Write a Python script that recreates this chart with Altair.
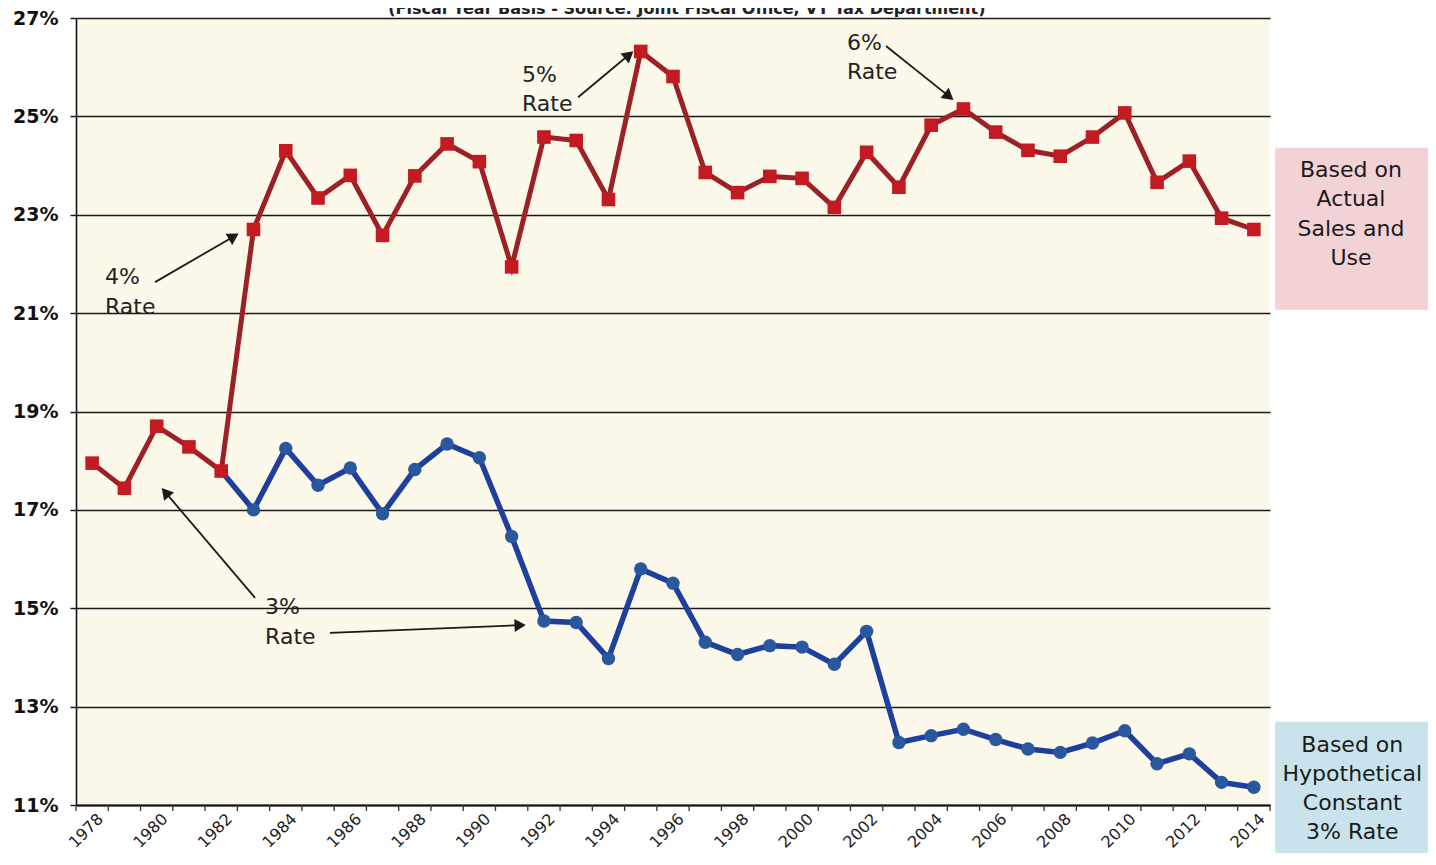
import math
import altair as alt
import pandas as pd

# ---------------- data ----------------
years = list(range(1978, 2015))
actual_pct = [17.95, 17.44, 18.70, 18.28, 17.79, 22.70, 24.30, 23.34, 23.80, 22.58,
              23.79, 24.44, 24.08, 21.94, 24.58, 24.51, 23.31, 26.32, 25.81, 23.86,
              23.45, 23.78, 23.74, 23.15, 24.27, 23.56, 24.82, 25.15, 24.68, 24.31,
              24.19, 24.58, 25.07, 23.66, 24.09, 22.93, 22.70]

hyp_years = list(range(1982, 2015))
hyp_pct = [17.79, 17.00, 18.25, 17.50, 17.85, 16.92, 17.82, 18.34, 18.06, 16.46,
           14.74, 14.71, 13.98, 15.80, 15.51, 14.31, 14.06, 14.24, 14.21, 13.86,
           14.53, 12.27, 12.41, 12.54, 12.33, 12.14, 12.07, 12.26, 12.51, 11.84,
           12.04, 11.46, 11.36]

y_ticks = [11, 13, 15, 17, 19, 21, 23, 25, 27]
x_label_years = list(range(1978, 2015, 2))

title_text = ["(Fiscal Year Basis - Source:  Joint Fiscal Office, VT Tax Department)"]

note_text = ["5%", "Rate", "6%", "Rate", "4%", "Rate", "3%", "Rate"]
note_x = [1991.32, 1991.32, 2001.39, 2001.39, 1978.40, 1978.40, 1983.36, 1983.36]
note_y = [25.84, 25.25, 26.49, 25.90, 21.74, 21.13, 15.03, 14.42]

arrow_x0 = [1993.06, 2002.60, 1979.95, 1983.05, 1985.37]
arrow_y0 = [25.39, 26.43, 21.63, 15.21, 14.50]
arrow_x1 = [1994.78, 2004.70, 1982.55, 1980.15, 1991.45]
arrow_y1 = [26.33, 25.33, 22.62, 17.45, 14.66]

box_names = ["actual", "hypothetical"]
box_x0 = [2014.66, 2014.66]
box_x1 = [2019.45, 2019.50]
box_y0 = [24.36, 12.69]
box_y1 = [21.07, 9.60]
box_colors = ["#F2D2D5", "#C8E3EC"]

box_lines = ["Based on", "Actual", "Sales and", "Use",
             "Based on", "Hypothetical", "Constant", "3% Rate"]
box_line_x = [2017.01] * 4 + [2017.05] * 4
box_line_y = [23.91, 23.32, 22.71, 22.12, 12.22, 11.63, 11.05, 10.46]

# ---------------- layout ----------------
W, H = 1194, 787
PAD_L, PAD_T, PAD_R, PAD_B = 68, 10, 158, 48
X_DOM = [years[0] - 0.5, years[-1] + 0.5]
Y_DOM = [11, 27]
px_per_year = W / (X_DOM[1] - X_DOM[0])
px_per_pct = H / (Y_DOM[1] - Y_DOM[0])

FONT = "DejaVu Sans"

xs = alt.Scale(domain=X_DOM, nice=False, zero=False)
ys = alt.Scale(domain=Y_DOM, nice=False, zero=False)

# ---------------- tables ----------------
df_act = pd.DataFrame({"year": years, "pct": actual_pct})
df_hyp = pd.DataFrame({"year": hyp_years, "pct": hyp_pct})
df_hyp_pts = df_hyp[df_hyp["year"] > hyp_years[0]]
df_bounds = pd.DataFrame({"b": [y - 0.5 for y in years] + [years[-1] + 0.5]})

# arrows: shaft ends behind the tip, head placed near tip
rows = []
for x0, y0, x1, y1 in zip(arrow_x0, arrow_y0, arrow_x1, arrow_y1):
    dxp = (x1 - x0) * px_per_year
    dyp = -(y1 - y0) * px_per_pct
    L = math.hypot(dxp, dyp)
    ux, uy = dxp / L, dyp / L
    back = 6.0
    hx = x1 - ux * back / px_per_year
    hy = y1 + uy * back / px_per_pct
    ang = math.degrees(math.atan2(dxp, -dyp)) % 360
    rows.append({"x0": x0, "y0": y0, "xs": hx, "ys": hy, "hx": hx, "hy": hy, "ang": ang})
df_arrow = pd.DataFrame(rows)

df_notes = pd.DataFrame({"t": note_text, "x": note_x, "y": note_y})
df_box = pd.DataFrame({"n": box_names, "x0": box_x0, "x1": box_x1,
                       "y0": box_y0, "y1": box_y1, "c": box_colors})
df_boxtxt = pd.DataFrame({"t": box_lines, "x": box_line_x, "y": box_line_y})
df_title = pd.DataFrame({"t": title_text, "x": [1996.43], "y": [27.09]})

# ---------------- layers ----------------
x_axis = alt.Axis(values=x_label_years, format="d", title=None, grid=False,
                  ticks=False, domainColor="#111", domainWidth=2,
                  labelAngle=-45, labelAlign="right", labelBaseline="middle",
                  labelPadding=11, labelOffset=8, labelFont=FONT, labelFontSize=16,
                  labelColor="#222", labelOverlap=False)
y_axis = alt.Axis(values=y_ticks, title=None, labelExpr="datum.value + '%'",
                  grid=True, gridColor="#1a1a1a", gridWidth=1.4,
                  domainColor="#111", domainWidth=1.6, tickColor="#111",
                  tickSize=6, tickWidth=1.4, labelFont=FONT, labelFontSize=19,
                  labelFontWeight="bold", labelColor="#111", labelPadding=12)

base_axes = alt.Chart(df_act).mark_point(opacity=0).encode(
    x=alt.X("year:Q", scale=xs, axis=x_axis),
    y=alt.Y("pct:Q", scale=ys, axis=y_axis),
)

ticks = alt.Chart(df_bounds).mark_rule(color="#333", strokeWidth=1.3).encode(
    x=alt.X("b:Q", scale=xs),
    y=alt.value(H),
    y2=alt.value(H + 6),
)

hyp_line = alt.Chart(df_hyp).mark_line(color="#1F3F9C", strokeWidth=5.5).encode(
    x=alt.X("year:Q", scale=xs), y=alt.Y("pct:Q", scale=ys))
hyp_pts = alt.Chart(df_hyp_pts).mark_point(
    shape="circle", filled=True, size=180, color="#29589E", opacity=1).encode(
    x=alt.X("year:Q", scale=xs), y=alt.Y("pct:Q", scale=ys))

act_line = alt.Chart(df_act).mark_line(color="#9B2126", strokeWidth=5).encode(
    x=alt.X("year:Q", scale=xs), y=alt.Y("pct:Q", scale=ys))
act_pts = alt.Chart(df_act).mark_point(
    shape="square", filled=True, size=185, color="#C41A22", opacity=1).encode(
    x=alt.X("year:Q", scale=xs), y=alt.Y("pct:Q", scale=ys))

shafts = alt.Chart(df_arrow).mark_rule(color="#1a1a1a", strokeWidth=1.8).encode(
    x=alt.X("x0:Q", scale=xs), y=alt.Y("y0:Q", scale=ys),
    x2="xs:Q", y2="ys:Q")
heads = alt.Chart(df_arrow).mark_point(
    shape="triangle-up", filled=True, size=170, color="#1a1a1a", opacity=1).encode(
    x=alt.X("hx:Q", scale=xs), y=alt.Y("hy:Q", scale=ys),
    angle=alt.Angle("ang:Q", scale=None))

notes = alt.Chart(df_notes).mark_text(
    align="left", baseline="middle", font=FONT, fontSize=22, color="#222").encode(
    x=alt.X("x:Q", scale=xs), y=alt.Y("y:Q", scale=ys), text="t:N")

boxes = alt.Chart(df_box).mark_rect(clip=False).encode(
    x=alt.X("x0:Q", scale=xs), x2="x1:Q",
    y=alt.Y("y0:Q", scale=ys), y2="y1:Q",
    color=alt.Color("c:N", scale=None))
box_txt = alt.Chart(df_boxtxt).mark_text(
    align="center", baseline="middle", font=FONT, fontSize=22, color="#1a1a1a").encode(
    x=alt.X("x:Q", scale=xs), y=alt.Y("y:Q", scale=ys), text="t:N")

title = alt.Chart(df_title).mark_text(
    align="center", baseline="alphabetic", font=FONT, fontSize=16,
    fontWeight="bold", color="#222").encode(
    x=alt.X("x:Q", scale=xs), y=alt.Y("y:Q", scale=ys), text="t:N")

chart = alt.layer(
    base_axes, ticks, boxes, box_txt, hyp_line, hyp_pts, act_line, act_pts,
    shafts, heads, notes, title,
).properties(
    width=W, height=H,
    autosize=alt.AutoSizeParams(type="none"),
    padding={"left": PAD_L, "top": PAD_T, "right": PAD_R, "bottom": PAD_B},
    background="white",
).configure_view(
    fill="#FCF8EA", stroke=None,
)

chart.save("out.html", embed_options={"renderer": "svg", "actions": False})
